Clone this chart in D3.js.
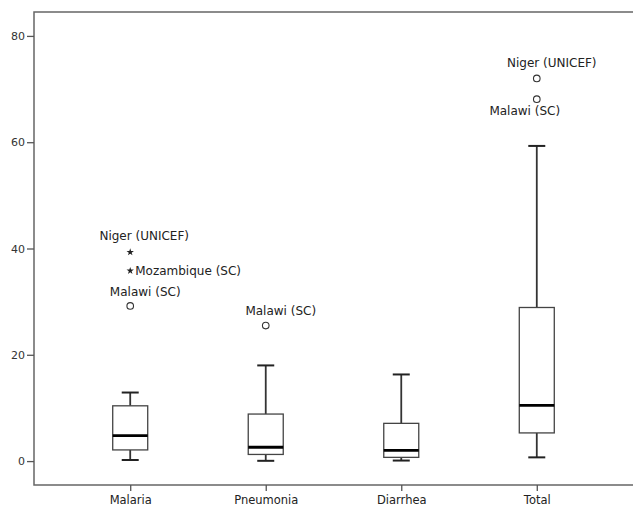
<!DOCTYPE html>
<html><head><meta charset="utf-8">
<script src="https://cdn.jsdelivr.net/npm/d3@7/dist/d3.min.js"></script>
<style>html,body{margin:0;background:#fff;overflow:hidden;}svg{display:block;}</style>
</head><body>
<svg id="c" width="633" height="509"></svg>
<script>
const categories = ["Malaria", "Pneumonia", "Diarrhea", "Total"];
const whiskerLow = [0.2, 0.05, 0.1, 0.7];
const q1 = [2.1, 1.25, 0.7, 5.3];
const median = [4.8, 2.6, 2.0, 10.5];
const q3 = [10.4, 8.85, 7.1, 28.9];
const whiskerHigh = [12.9, 18.0, 16.3, 59.3];
const outlierCategory = ["Malaria", "Malaria", "Malaria", "Pneumonia", "Total", "Total"];
const outlierValue = [39.3, 35.8, 29.2, 25.5, 72.0, 68.1];
const outlierLabel = ["Niger (UNICEF)", "Mozambique (SC)", "Malawi (SC)", "Malawi (SC)", "Niger (UNICEF)", "Malawi (SC)"];
const outlierKind = ["extreme", "extreme", "outlier", "outlier", "outlier", "outlier"];
const yTicks = [0, 20, 40, 60, 80];

// label placement (style)
const labelPlace = [
  {dx: 14, dy: -12, anchor: "middle"},
  {dx: 5, dy: 4, anchor: "start"},
  {dx: 15, dy: -10, anchor: "middle"},
  {dx: 15, dy: -11, anchor: "middle"},
  {dx: 15, dy: -11, anchor: "middle"},
  {dx: -12, dy: 16, anchor: "middle"}
];

const svg = d3.select("#c");
const mLeft = 34, mRight = 633, mTop = 12, mBottom = 485;
const font = "DejaVu Sans, sans-serif";

const y = d3.scaleLinear().domain([-4.5, 84.5]).range([mBottom, mTop]);
const x = d3.scalePoint().domain(categories).range([mLeft, mRight]).padding(0.71);

// frame: top, left, bottom (right side lies beyond the picture)
svg.append("path")
  .attr("d", `M${mRight},${mTop}H${mLeft}V${mBottom}H${mRight}`)
  .attr("fill", "none").attr("stroke", "#666").attr("stroke-width", 1.5);

// y axis
const ya = svg.append("g").attr("transform", `translate(${mLeft},0)`)
  .call(d3.axisLeft(y).tickValues(yTicks).tickSize(7).tickPadding(2).tickFormat(d3.format("d")));
ya.select(".domain").remove();
ya.selectAll("line").attr("stroke", "#555").attr("stroke-width", 1.3);
ya.selectAll("text").attr("font-family", font).attr("font-size", 11).attr("fill", "#333");

// x axis
const xa = svg.append("g").attr("transform", `translate(0,${mBottom})`)
  .call(d3.axisBottom(x).tickSize(6).tickPadding(5));
xa.select(".domain").remove();
xa.selectAll("line").attr("stroke", "#555").attr("stroke-width", 1.3);
xa.selectAll("text").attr("font-family", font).attr("font-size", 11.5).attr("fill", "#222");

const bw = 35, cw = 17;
const g = svg.append("g");
categories.forEach((c, i) => {
  const cx = x(c);
  g.append("line").attr("x1", cx).attr("x2", cx).attr("y1", y(q3[i])).attr("y2", y(whiskerHigh[i]))
    .attr("stroke", "#333").attr("stroke-width", 1.8);
  g.append("line").attr("x1", cx).attr("x2", cx).attr("y1", y(q1[i])).attr("y2", y(whiskerLow[i]))
    .attr("stroke", "#333").attr("stroke-width", 1.8);
  g.append("line").attr("x1", cx - cw / 2).attr("x2", cx + cw / 2).attr("y1", y(whiskerHigh[i])).attr("y2", y(whiskerHigh[i]))
    .attr("stroke", "#222").attr("stroke-width", 2);
  g.append("line").attr("x1", cx - cw / 2).attr("x2", cx + cw / 2).attr("y1", y(whiskerLow[i])).attr("y2", y(whiskerLow[i]))
    .attr("stroke", "#222").attr("stroke-width", 2);
  g.append("rect").attr("x", cx - bw / 2).attr("y", y(q3[i])).attr("width", bw).attr("height", y(q1[i]) - y(q3[i]))
    .attr("fill", "#fff").attr("stroke", "#444").attr("stroke-width", 1.3);
  g.append("line").attr("x1", cx - bw / 2).attr("x2", cx + bw / 2).attr("y1", y(median[i])).attr("y2", y(median[i]))
    .attr("stroke", "#000").attr("stroke-width", 2.8);
});

const star = d3.symbol().type(d3.symbolStar).size(17);
outlierValue.forEach((v, i) => {
  const cx = x(outlierCategory[i]), cy = y(v);
  if (outlierKind[i] === "extreme") {
    g.append("path").attr("d", star).attr("transform", `translate(${cx},${cy})`).attr("fill", "#222");
  } else {
    g.append("circle").attr("cx", cx).attr("cy", cy).attr("r", 3.3).attr("fill", "#fff")
      .attr("stroke", "#333").attr("stroke-width", 1.1);
  }
  const p = labelPlace[i];
  g.append("text").attr("x", cx + p.dx).attr("y", cy + p.dy).attr("text-anchor", p.anchor)
    .attr("font-family", font).attr("font-size", 12).attr("fill", "#222").text(outlierLabel[i]);
});
</script>
</body></html>
